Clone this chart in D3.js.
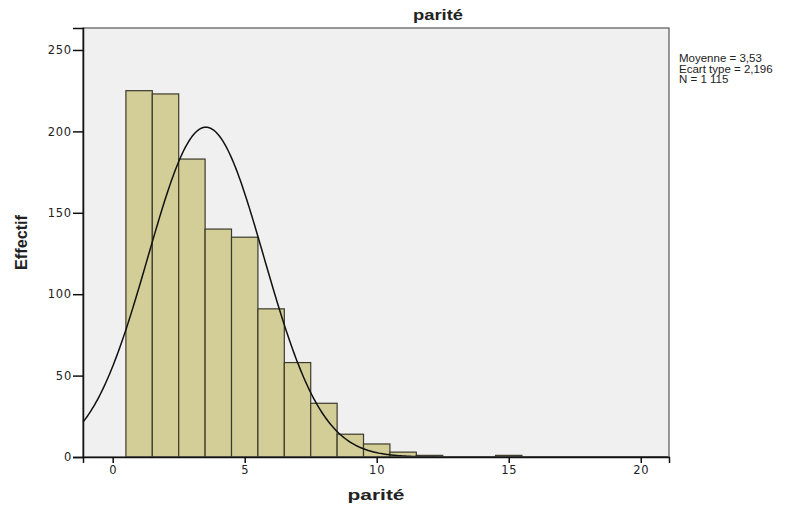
<!DOCTYPE html>
<html>
<head>
<meta charset="utf-8">
<script src="https://cdn.jsdelivr.net/npm/d3@7"></script>
<style>
  body { margin: 0; background: #fff; }
  text { font-family: Arial, "Liberation Sans", sans-serif; fill: #222; }
</style>
</head>
<body>
<div id="chart"></div>
<script>
//Datos del histograma
const parites = [1, 2, 3, 4, 5, 6, 7, 8, 9, 10, 11, 12, 15];
const effectifs = [225, 223, 183, 140, 135, 91, 58, 33, 14, 8, 3, 1, 1];
const xTicks = [0, 5, 10, 15, 20];
const yTicks = [0, 50, 100, 150, 200, 250];
const moyenne = 3.53, ecartType = 2.196, n = 1115;
const legende = ['Moyenne = 3,53', 'Ecart type = 2,196', 'N = 1 115'];

const W = 809, H = 510;
let margin = {top: 28, right: 140, bottom: 53, left: 83},
    width = W - margin.left - margin.right,
    height = H - margin.top - margin.bottom;

let svg = d3.select('#chart').append('svg')
    .attr('width', W).attr('height', H);

let g = svg.append('g')
    .attr('transform', 'translate(' + margin.left + ',' + margin.top + ')');

let x = d3.scaleLinear().domain([-1.125, 21.07]).range([0, width]);
let y = d3.scaleLinear().domain([0, 263.5]).range([height, 0]);

//Fondo
g.append('rect')
    .attr('width', width).attr('height', height)
    .attr('fill', '#f0f0f0');

//Barras
g.selectAll('.bar')
    .data(parites)
    .enter()
    .append('rect')
    .attr('class', 'bar')
    .attr('x', function(d) { return x(d - 0.5); })
    .attr('width', function(d) { return x(d + 0.5) - x(d - 0.5); })
    .attr('y', function(d, i) { return y(effectifs[i]); })
    .attr('height', function(d, i) { return height - y(effectifs[i]); })
    .attr('fill', '#d3ce98')
    .attr('stroke', '#3c3a2c')
    .attr('stroke-width', 1.2);

//Curva normal
let pts = d3.range(-1.125, 21.07, 0.05).map(function(v) {
    let z = (v - moyenne) / ecartType;
    return [v, n / (ecartType * Math.sqrt(2 * Math.PI)) * Math.exp(-0.5 * z * z)];
});
g.append('path')
    .datum(pts)
    .attr('fill', 'none')
    .attr('stroke', '#111')
    .attr('stroke-width', 1.5)
    .attr('d', d3.line().x(function(d) { return x(d[0]); }).y(function(d) { return y(d[1]); }));

//Marco
g.append('rect')
    .attr('width', width).attr('height', height)
    .attr('fill', 'none').attr('stroke', '#555').attr('stroke-width', 1.2);

//Ejes
let xAxis = g.append('g')
    .attr('transform', 'translate(0,' + height + ')')
    .call(d3.axisBottom(x).tickValues(xTicks).tickSize(6).tickPadding(3));
let yAxis = g.append('g')
    .call(d3.axisLeft(y).tickValues(yTicks).tickSize(10).tickPadding(1));
[xAxis, yAxis].forEach(function(a) {
    a.select('.domain').attr('stroke', '#111').attr('stroke-width', 1.5);
    a.selectAll('.tick line').attr('stroke', '#111').attr('stroke-width', 1.5);
    a.selectAll('.tick text')
        .style('font-family', '"DejaVu Sans", sans-serif')
        .style('font-size', '11.5px')
        .style('letter-spacing', '0.8px')
        .attr('fill', '#222');
});

//Títulos
svg.append('text')
    .attr('x', 438).attr('y', 20)
    .attr('text-anchor', 'middle')
    .attr('textLength', 50).attr('lengthAdjust', 'spacingAndGlyphs')
    .style('font-size', '14.5px').style('font-weight', 'bold')
    .text('parité');

svg.append('text')
    .attr('x', 376).attr('y', 500)
    .attr('text-anchor', 'middle')
    .attr('textLength', 57).attr('lengthAdjust', 'spacingAndGlyphs')
    .style('font-size', '15px').style('font-weight', 'bold')
    .text('parité');

svg.append('text')
    .attr('transform', 'translate(27,' + 242.5 + ') rotate(-90)')
    .attr('text-anchor', 'middle')
    .attr('textLength', 55).attr('lengthAdjust', 'spacingAndGlyphs')
    .style('font-size', '16px').style('font-weight', 'bold')
    .text('Effectif');

//Leyenda
svg.append('g')
    .selectAll('text')
    .data(legende)
    .enter()
    .append('text')
    .attr('x', 679)
    .attr('y', function(d, i) { return 62 + i * 10.5; })
    .style('font-size', '11.5px')
    .text(function(d) { return d; });
</script>
</body>
</html>
